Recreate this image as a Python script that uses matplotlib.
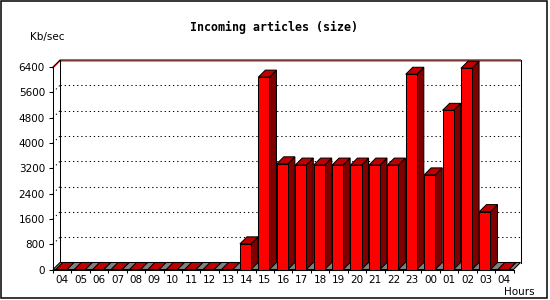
import matplotlib
matplotlib.use("Agg")
import matplotlib.pyplot as plt
from matplotlib.patches import Polygon, Rectangle

# data
hours = ["04", "05", "06", "07", "08", "09", "10", "11", "12", "13", "14", "15",
         "16", "17", "18", "19", "20", "21", "22", "23", "00", "01", "02", "03", "04"]
kbsec = [0, 0, 0, 0, 0, 0, 0, 0, 0, 0, 810, 6080,
         3340, 3300, 3300, 3300, 3300, 3300, 3300, 6170, 2990, 5030, 6360, 1830, 0]
yticks = [0, 800, 1600, 2400, 3200, 4000, 4800, 5600, 6400]

FRONT, TOP, SIDE, FLOOR = "#ff0000", "#c00000", "#800000", "#808080"
n = len(hours)
ymax = yticks[-1]

fig = plt.figure(figsize=(5.5, 3), dpi=100)
fig.patch.set_facecolor("white")
# front plane of the 3d box, in pixels: x 53..513.5, y 269.5..67
ax = fig.add_axes([53 / 550, 30.5 / 300, 460.5 / 550, 202.5 / 300])
ax.set_xlim(0, n)
ax.set_ylim(0, ymax)

# depth of the 3d effect (7 px) in data units
px_x = n / 460.5
px_y = ymax / 202.5
dx, dy = 7 * px_x, 7 * px_y

lw = 0.75
# floor
ax.add_patch(Polygon([(0, 0), (n, 0), (n + dx, dy), (dx, dy)], closed=True,
                     facecolor=FLOOR, edgecolor="black", lw=lw, clip_on=False, zorder=2))

# back wall gridlines + side wall diagonals
for v in yticks[1:-1]:
    ax.plot([dx, n + dx], [v + dy, v + dy], color="black", lw=lw,
            ls=(0, (1.2, 2.8)), clip_on=False, zorder=1)
    ax.plot([0, dx], [v, v + dy], color="black", lw=lw,
            ls=(0, (1.2, 2.8)), clip_on=False, zorder=1)

# back wall frame
ax.plot([0, dx, n + dx], [ymax - px_y, ymax + dy - px_y, ymax + dy - px_y],
        color="red", lw=lw, clip_on=False, zorder=1)
ax.plot([0, dx, n + dx], [ymax, ymax + dy, ymax + dy], color="black", lw=lw,
        clip_on=False, zorder=1)
ax.plot([dx, dx], [dy, ymax + dy], color="black", lw=lw, clip_on=False, zorder=1)
ax.plot([n + dx, n + dx], [dy, ymax + dy], color="black", lw=lw, clip_on=False, zorder=1)

# 3d bars
w = 0.6
for i, v in enumerate(kbsec):
    x0 = i + 0.15
    x1 = x0 + w
    ax.add_patch(Polygon([(x1, 0), (x1 + dx, dy), (x1 + dx, v + dy), (x1, v)], closed=True,
                         facecolor=SIDE, edgecolor="black", lw=lw, clip_on=False, zorder=3))
    ax.add_patch(Polygon([(x0, v), (x0 + dx, v + dy), (x1 + dx, v + dy), (x1, v)], closed=True,
                         facecolor=TOP, edgecolor="black", lw=lw, clip_on=False, zorder=3))
    if v > 0:
        ax.add_patch(Rectangle((x0, 0), w, v, facecolor=FRONT, edgecolor="black",
                               lw=lw, clip_on=False, zorder=4))

# axes
for s in ["top", "right"]:
    ax.spines[s].set_visible(False)
for s in ["left", "bottom"]:
    ax.spines[s].set_linewidth(lw)
    ax.spines[s].set_zorder(5)
ax.set_facecolor("none")
ax.set_yticks(yticks)
ax.set_yticklabels([str(t) for t in yticks])
ax.set_xticks(range(n + 1))
ax.set_xticklabels([])
ax.set_xticks([i + 0.5 for i in range(n)], minor=True)
ax.set_xticklabels(hours, minor=True)
ax.tick_params(axis="y", length=2.9, width=lw, pad=2.9, labelsize=7.5)
ax.tick_params(axis="x", which="major", length=2.2, width=lw)
ax.tick_params(axis="x", which="minor", length=0, pad=4.0, labelsize=7.5)

fig.text(274 / 550, 1 - 27 / 300, "Incoming articles (size)", ha="center", va="center",
         family="DejaVu Sans Mono", weight="bold", fontsize=8.4)
fig.text(30 / 550, 1 - 37 / 300, "Kb/sec", ha="left", va="center", fontsize=7.5)
fig.text(519 / 550, 1 - 292 / 300, "Hours", ha="center", va="center", fontsize=7.5)

# outer frame
fig.patches.append(Rectangle((1 / 550, 2 / 300), 546 / 550, 297 / 300, transform=fig.transFigure,
                             fill=False, edgecolor="black", lw=1.1))

fig.savefig("out.png", dpi=100)
